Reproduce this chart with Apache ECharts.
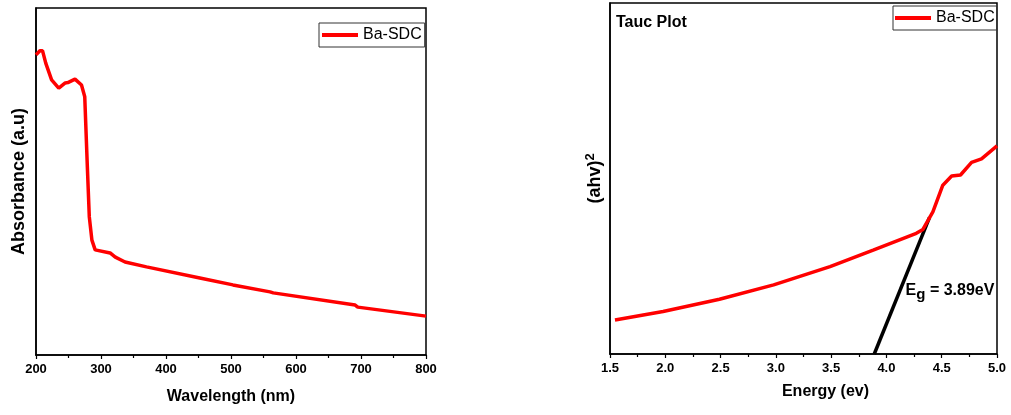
<!DOCTYPE html>
<html><head><meta charset="utf-8">
<script src="https://cdn.jsdelivr.net/npm/echarts@6/dist/echarts.min.js"></script>
<style>html,body{margin:0;padding:0;background:#fff}#c{width:1011px;height:415px}</style>
</head><body><div id="c"></div>
<script>
// Left panel: absorbance vs wavelength
const wavelength = [200,206,210,215,224,235,245,249,260,270,275,279,282,286,291,314,322,337,370,452,503,560,565,691,695,800];
const absorbance = [86.5,87.7,87.7,84.1,79.3,76.9,78.4,78.5,79.5,77.8,74.4,54.2,39.8,33.1,30.3,29.4,28.2,26.8,25.4,22.2,20.2,18.2,17.9,14.4,13.8,11.2];
// Right panel: Tauc plot
const energy = [1.545,1.98,2.49,2.98,3.49,3.88,4.27,4.33,4.42,4.51,4.59,4.67,4.77,4.86,5.0];
const tauc = [9.7,12.1,15.6,19.7,24.9,29.6,34.4,35.5,40.5,48.1,50.7,51.0,54.6,55.6,59.3];
const tangentX = [3.89,4.39];
const tangentY = [0,38.9];
const egLabelPos = [4.575,18.2];
const seriesName = 'Ba-SDC';

const F = 'Arial, "Liberation Sans", sans-serif';
const chart = echarts.init(document.getElementById('c'));
function xAx(idx,min,max,interval,name,fmt,namePad){
  return {gridIndex:idx,type:'value',min:min,max:max,interval:interval,
    name:name,nameLocation:'middle',nameGap:idx===0?34:30,
    nameTextStyle:{fontFamily:F,fontWeight:'bold',fontSize:16,color:'#000',padding:namePad},
    axisLine:{show:true,lineStyle:{color:'#000',width:1.5}},
    axisTick:{show:true,inside:false,length:4,lineStyle:{color:'#000',width:1.2}},
    minorTick:{show:true,splitNumber:2,length:3,lineStyle:{color:'#000',width:1.2}},
    axisLabel:{fontFamily:F,fontWeight:'bold',fontSize:13,color:'#000',margin:8,formatter:fmt},
    splitLine:{show:false}};
}
function yAx(idx,name,gap){
  return {gridIndex:idx,type:'value',min:0,max:100,name:name,nameLocation:'middle',nameGap:gap,nameRotate:90,
    nameTextStyle:{fontFamily:F,fontWeight:'bold',fontSize:18,color:'#000',
      rich:{s:{fontFamily:F,fontWeight:'bold',fontSize:13,color:'#000',padding:[0,0,10,0]}}},
    axisLine:{show:true,lineStyle:{color:'#000',width:1.5}},
    axisTick:{show:false},axisLabel:{show:false},splitLine:{show:false}};
}
const legendBase = {data:[seriesName],itemWidth:36,itemHeight:10,borderColor:'#333',borderWidth:1,
  padding:[4,3,4,3],textStyle:{fontFamily:F,fontSize:16,color:'#000'},
  icon:'path://M0,0 L36,0 L36,4 L0,4 Z', itemStyle:{color:'#ff0000'}};
chart.setOption({
  animation:false,
  backgroundColor:'#fff',
  title:{text:'Tauc Plot',left:611,top:10,textStyle:{fontFamily:F,fontWeight:'bold',fontSize:16,color:'#000'}},
  grid:[
    {left:36,top:8,width:390,height:347,show:true,borderColor:'#000',borderWidth:1.5},
    {left:610,top:3,width:387,height:351,show:true,borderColor:'#000',borderWidth:1.5}
  ],
  legend:[
    Object.assign({},legendBase,{left:319,top:23}),
    Object.assign({},legendBase,{left:893,top:6,padding:[4,2,4,2]})
  ],
  xAxis:[
    xAx(0,200,800,100,'Wavelength (nm)',v=>String(v),[0,0,0,0]),
    xAx(1,1.5,5.0,0.5,'Energy (ev)',v=>v.toFixed(1),[0,0,0,44])
  ],
  yAxis:[yAx(0,'Absorbance (a.u)',8), yAx(1,'(ahv){s|2}',3)],
  series:[
    {name:seriesName,type:'line',xAxisIndex:0,yAxisIndex:0,symbol:'none',
      lineStyle:{color:'#ff0000',width:3.5},itemStyle:{color:'#ff0000'},
      data:wavelength.map((w,i)=>[w,absorbance[i]])},
    {name:seriesName,type:'line',xAxisIndex:1,yAxisIndex:1,symbol:'none',
      lineStyle:{color:'#ff0000',width:3.5},itemStyle:{color:'#ff0000'},
      data:energy.map((e,i)=>[e,tauc[i]])},
    {name:'tangent',type:'line',xAxisIndex:1,yAxisIndex:1,symbol:'none',z:1,
      lineStyle:{color:'#000',width:3.5},
      data:tangentX.map((e,i)=>[e,tangentY[i]]),
      markPoint:{symbol:'circle',symbolSize:1,itemStyle:{color:'rgba(0,0,0,0)'},
        data:[{coord:egLabelPos,label:{show:true,position:'inside',
          formatter:'{e|E}{g|g}{e| = 3.89eV}',
          rich:{e:{fontFamily:F,fontWeight:'bold',fontSize:16,color:'#000'},
                g:{fontFamily:F,fontWeight:'bold',fontSize:15,color:'#000',padding:[10,0,0,0]}}}}]}}
  ]
});
</script></body></html>
